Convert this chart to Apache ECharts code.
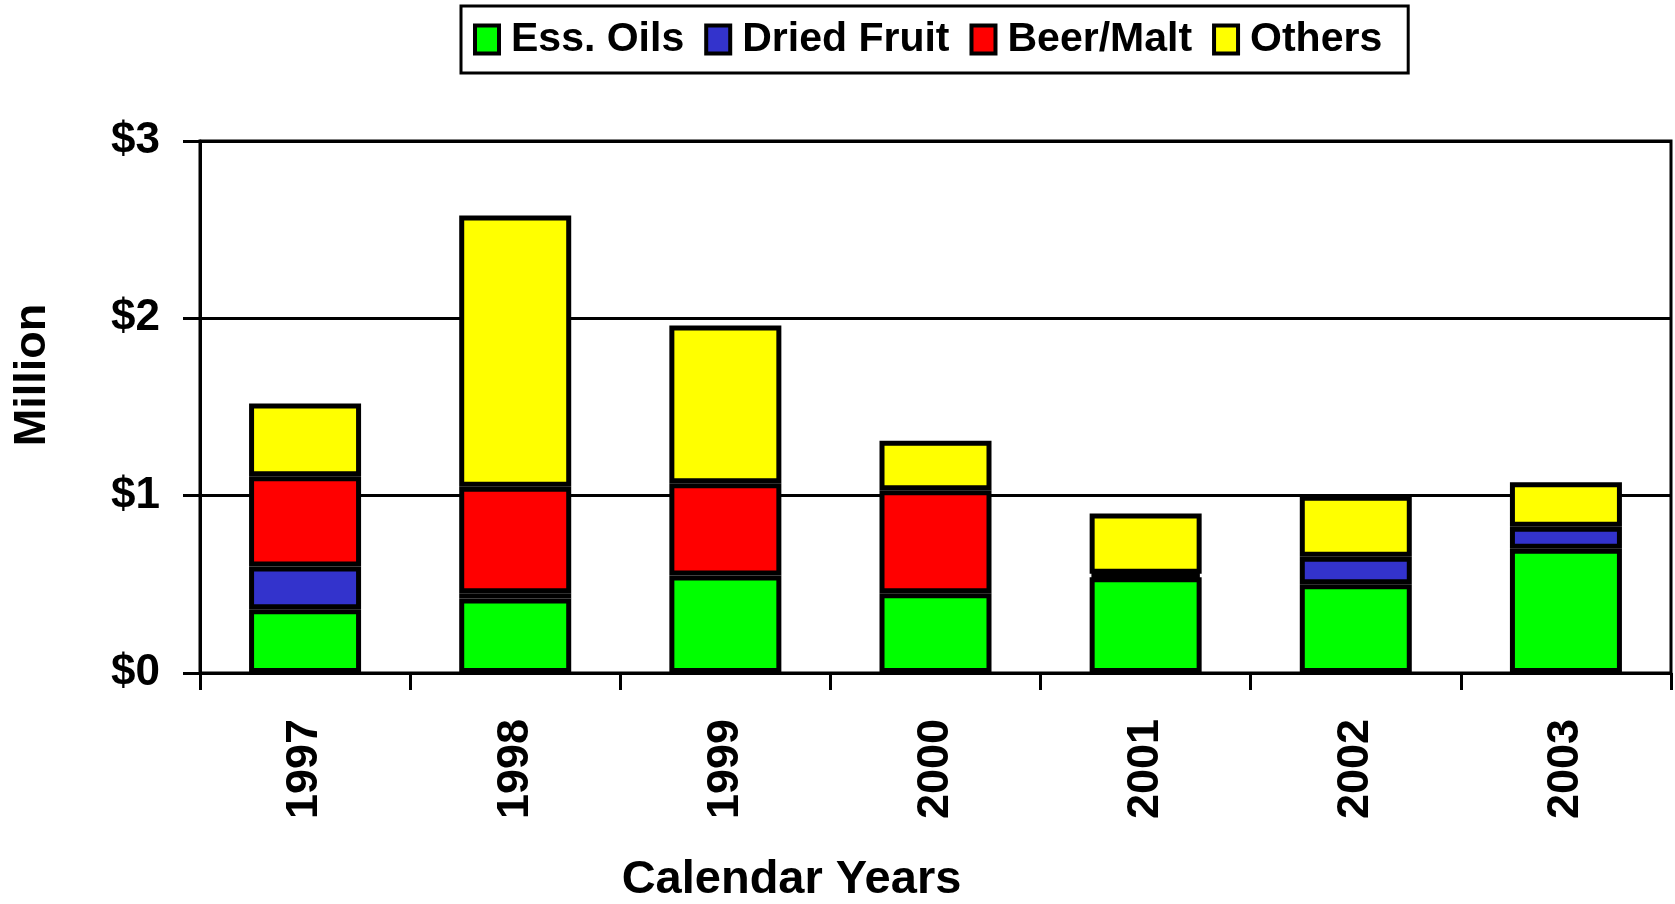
<!DOCTYPE html>
<html>
<head>
<meta charset="utf-8">
<script src="https://cdn.jsdelivr.net/npm/echarts@6/dist/echarts.min.js"></script>
<style>
  html, body { margin: 0; padding: 0; background: #fff; }
  #main { width: 1675px; height: 904px; }
</style>
</head>
<body>
<div id="main"></div>
<script>
var years = ['1997', '1998', '1999', '2000', '2001', '2002', '2003'];
var essOils = [0.36, 0.42, 0.55, 0.45, 0.54, 0.50, 0.70];
var driedFruit = [0.24, 0.03, 0, 0, 0.02, 0.155, 0.125];
var beerMalt = [0.51, 0.60, 0.52, 0.58, 0, 0, 0];
var others = [0.41, 1.53, 0.89, 0.28, 0.34, 0.345, 0.25];
var yTicks = ['$0', '$1', '$2', '$3'];

var font = 'Liberation Sans, Arial, sans-serif';
var chart = echarts.init(document.getElementById('main'));

function bar(name, data, color) {
  return {
    name: name,
    type: 'bar',
    stack: 'total',
    barWidth: 112,
    data: data.map(function (v) { return v ? v : '-'; }),
    itemStyle: { color: color, borderColor: '#000', borderWidth: 5 }
  };
}

var option = {
  animation: false,
  backgroundColor: '#fff',
  textStyle: { fontFamily: font },
  legend: {
    left: 461,
    top: 6,
    padding: [13, 26, 13, 12],
    borderColor: '#000',
    borderWidth: 3,
    itemWidth: 24,
    itemHeight: 28,
    itemGap: 20,
    icon: 'rect',
    itemStyle: { borderColor: '#000', borderWidth: 4 },
    textStyle: { fontSize: 41, fontWeight: 'bold', color: '#000', fontFamily: font, padding: [0, 0, 0, 7] },
    data: ['Ess. Oils', 'Dried Fruit', 'Beer/Malt', 'Others']
  },
  grid: {
    left: 200, right: 4, top: 141, bottom: 231,
    outerBoundsMode: 'none',
    show: true, borderColor: '#000', borderWidth: 3, containLabel: false
  },
  xAxis: {
    type: 'category',
    data: years,
    name: 'Calendar Years',
    nameLocation: 'middle',
    nameGap: 184,
    nameTextStyle: { fontSize: 47, fontWeight: 'bold', color: '#000', fontFamily: font, padding: [0, 288, 0, 0] },
    axisLine: { lineStyle: { color: '#000', width: 3 } },
    axisTick: { show: true, length: 17, lineStyle: { color: '#000', width: 3 } },
    axisLabel: { rotate: 90, margin: 46, fontSize: 45, fontWeight: 'bold', color: '#000', fontFamily: font }
  },
  yAxis: {
    type: 'value',
    min: 0, max: 3, interval: 1,
    name: 'Million',
    nameLocation: 'middle',
    nameGap: 145,
    nameTextStyle: { fontSize: 45, fontWeight: 'bold', color: '#000', fontFamily: font, padding: [0, 0, 0, 64] },
    axisLine: { show: true, lineStyle: { color: '#000', width: 3 } },
    axisTick: { show: true, length: 17, lineStyle: { color: '#000', width: 3 } },
    splitLine: { lineStyle: { color: '#000', width: 3 } },
    axisLabel: {
      margin: 40, fontSize: 44, fontWeight: 'bold', color: '#000', fontFamily: font,
      formatter: function (v) { return yTicks[v]; }
    }
  },
  series: [
    bar('Ess. Oils', essOils, '#00FF00'),
    bar('Dried Fruit', driedFruit, '#3333CC'),
    bar('Beer/Malt', beerMalt, '#FF0000'),
    bar('Others', others, '#FFFF00')
  ]
};
chart.setOption(option);
</script>
</body>
</html>
